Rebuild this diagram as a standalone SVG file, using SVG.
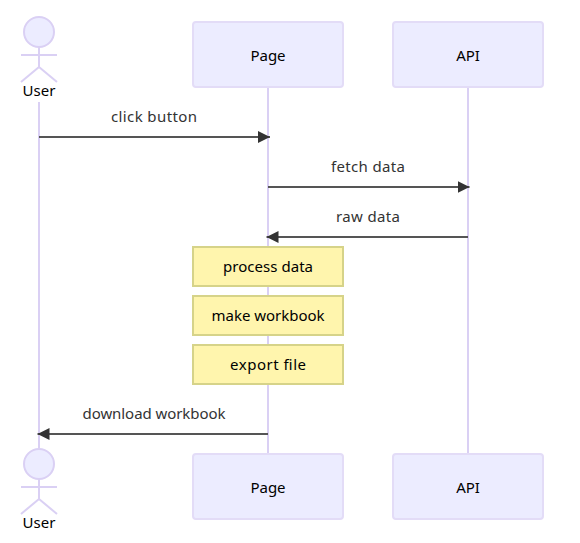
<svg xmlns="http://www.w3.org/2000/svg" width="580" height="543" viewBox="0 0 580 543">
<style>
text{font-family:"Noto Sans","Open Sans","Liberation Sans",sans-serif;font-size:15px;text-anchor:middle;dominant-baseline:central}
.life{stroke:#dad0f4;stroke-width:2;fill:none}
.box{fill:#ececff;stroke:#e3dcf7;stroke-width:2}
.stick{fill:none;stroke:#dad0f4;stroke-width:2}
.head{fill:#ececff;stroke:#dad0f4;stroke-width:2}
.note{fill:#fff5ad;stroke:#d6d389;stroke-width:2}
.msg{stroke:#555;stroke-width:2;fill:none;marker-end:url(#arrow)}
.mt{fill:#333}
.nt{fill:#000}
</style>
<defs>
<marker id="arrow" markerUnits="userSpaceOnUse" markerWidth="12" markerHeight="12" refX="10" refY="5" viewBox="0 0 10 10" orient="auto"><path d="M0 0L10 5L0 10z" fill="#333"/></marker>
<g id="stickman"><circle class="head" cx="39" cy="32" r="15"/><path class="stick" d="M39 47V67M21 55H57M39 67L21 82M39 67L57 82"/></g>
</defs>
<g id="lifelines">
<path class="life" d="M39 102V448"/>
<path class="life" d="M268 87V454"/>
<path class="life" d="M468 87V454"/>
</g>
<g id="actor-user-top"><use href="#stickman"/><text x="39" y="90" class="nt">User</text></g>
<g id="actor-page-top"><rect class="box" x="193" y="22" width="150" height="65" rx="3"/><text x="268" y="55" class="nt">Page</text></g>
<g id="actor-api-top"><rect class="box" x="393" y="22" width="150" height="65" rx="3"/><text x="468" y="55" class="nt">API</text></g>
<g id="actor-user-bottom"><use href="#stickman" y="432"/><text x="39" y="522" class="nt">User</text></g>
<g id="actor-page-bottom"><rect class="box" x="193" y="454" width="150" height="65" rx="3"/><text x="268" y="487" class="nt">Page</text></g>
<g id="actor-api-bottom"><rect class="box" x="393" y="454" width="150" height="65" rx="3"/><text x="468" y="487" class="nt">API</text></g>
<g id="connectors">
<path class="msg" d="M39 137H270"/>
<path class="msg" d="M268 187H469.500"/>
<path class="msg" d="M468 237H266.500"/>
<path class="msg" d="M268 434H37.500"/>
<text x="154" y="116" class="mt" textLength="86">click button</text>
<text x="368" y="166" class="mt" textLength="74">fetch data</text>
<text x="368" y="216" class="mt" textLength="64">raw data</text>
<text x="154" y="413" class="mt" textLength="143">download workbook</text>
</g>
<g id="note-process"><rect class="note" x="193" y="247" width="150" height="39"/><text x="268" y="266" class="nt" textLength="90">process data</text></g>
<g id="note-workbook"><rect class="note" x="193" y="296" width="150" height="39"/><text x="268" y="315" class="nt" textLength="113">make workbook</text></g>
<g id="note-export"><rect class="note" x="193" y="345" width="150" height="39"/><text x="268" y="364" class="nt" textLength="76">export file</text></g>
</svg>
